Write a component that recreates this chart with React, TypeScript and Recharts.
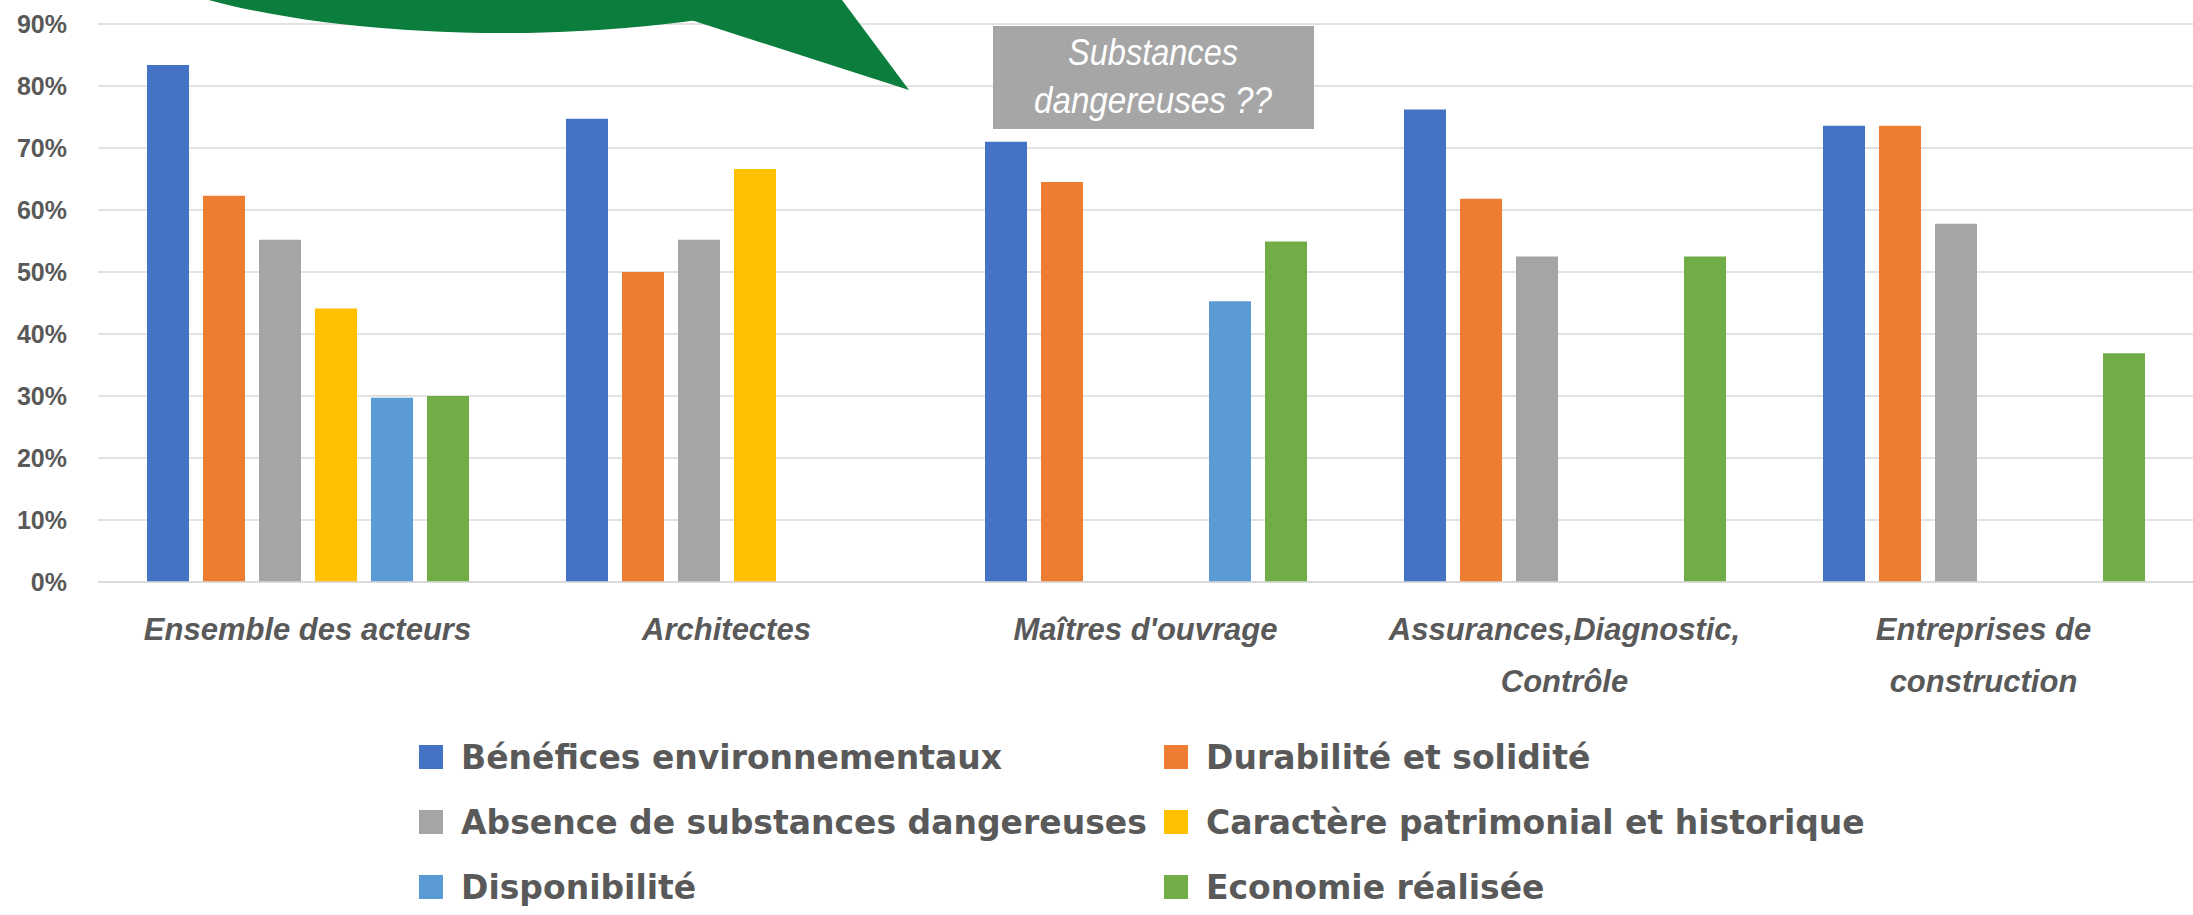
import React from "react";
import { BarChart, Bar, XAxis, YAxis, CartesianGrid } from "recharts";

// categories (multi-line labels split on \n)
const categories = [
  "Ensemble des acteurs",
  "Architectes",
  "Maîtres d'ouvrage",
  "Assurances,Diagnostic,\nContrôle",
  "Entreprises de\nconstruction",
];

// values in %
const benefices = [83.4, 74.7, 71.0, 76.2, 73.6];
const durabilite = [62.3, 50.0, 64.5, 61.8, 73.6];
const absence = [55.2, 55.2, null, 52.5, 57.8];
const caractere = [44.1, 66.6, null, null, null];
const disponibilite = [29.7, null, 45.3, null, null];
const economie = [30.0, null, 54.9, 52.5, 36.9];

const yTicks = [0, 10, 20, 30, 40, 50, 60, 70, 80, 90];

const series = [
  { key: "benefices", name: "Bénéfices environnementaux", color: "#4472C4", values: benefices },
  { key: "durabilite", name: "Durabilité et solidité", color: "#ED7D31", values: durabilite },
  { key: "absence", name: "Absence de substances dangereuses", color: "#A5A5A5", values: absence },
  { key: "caractere", name: "Caractère patrimonial et historique", color: "#FFC000", values: caractere },
  { key: "disponibilite", name: "Disponibilité", color: "#5B9BD5", values: disponibilite },
  { key: "economie", name: "Economie réalisée", color: "#70AD47", values: economie },
];

const data = categories.map((c, i) => {
  const row: any = { name: c };
  series.forEach((s) => (row[s.key] = s.values[i]));
  return row;
});

const W = 2193;
const H = 915;
const TXT = "#595959";

function CategoryTick(props: any) {
  const { x, y, payload } = props;
  const lines = String(payload.value).split("\n");
  return (
    <text
      x={x}
      y={y}
      textAnchor="middle"
      fill={TXT}
      fontFamily="'Liberation Sans', Arial, sans-serif"
      fontWeight="bold"
      fontStyle="italic"
      fontSize={31}
    >
      {lines.map((l, i) => (
        <tspan key={i} x={x} dy={i === 0 ? 58 : 52}>
          {l}
        </tspan>
      ))}
    </text>
  );
}

function LegendBlock() {
  return (
    <div style={{ position: "absolute", left: 0, top: 0, width: W, height: H, pointerEvents: "none" }}>
      {series.map((s, i) => {
        const col = i % 2;
        const row = Math.floor(i / 2);
        const left = col === 0 ? 419 : 1164;
        const cy = 757 + row * 65;
        return (
          <div
            key={s.key}
            style={{
              position: "absolute",
              left,
              top: cy - 22,
              height: 44,
              display: "flex",
              alignItems: "center",
              whiteSpace: "nowrap",
            }}
          >
            <span style={{ display: "inline-block", width: 24, height: 24, background: s.color, marginRight: 18 }} />
            <span
              style={{
                fontFamily: "'DejaVu Sans', sans-serif",
                fontWeight: "bold",
                fontSize: 33,
                color: TXT,
              }}
            >
              {s.name}
            </span>
          </div>
        );
      })}
    </div>
  );
}

function Annotations() {
  return (
    <svg width={W} height={H} style={{ position: "absolute", left: 0, top: 0, pointerEvents: "none" }}>
      {/* green speech bubble */}
      <ellipse cx={503} cy={-82} rx={420} ry={115} fill="#0B7D3C" />
      <polygon points="660,10 909,90 842,0 760,-10" fill="#0B7D3C" />
      {/* grey note box */}
      <rect x={993} y={26} width={321} height={103} fill="#A6A6A6" />
      <text
        x={1153}
        y={65}
        textAnchor="middle"
        fill="#fff"
        fontFamily="'Liberation Sans', Arial, sans-serif"
        fontStyle="italic"
        fontSize={36}
        textLength={170}
        lengthAdjust="spacingAndGlyphs"
      >
        Substances
      </text>
      <text
        x={1153}
        y={113}
        textAnchor="middle"
        fill="#fff"
        fontFamily="'Liberation Sans', Arial, sans-serif"
        fontStyle="italic"
        fontSize={36}
        textLength={238}
        lengthAdjust="spacingAndGlyphs"
      >
        dangereuses ??
      </text>
    </svg>
  );
}

export default function App() {
  return (
    <div style={{ position: "absolute", left: 0, top: 0, width: W, height: H, background: "#fff" }}>
      <BarChart
        width={W}
        height={H}
        data={data}
        margin={{ top: 24, right: 0, left: 0, bottom: 213 }}
        barSize={42}
        barGap={14}
      >
        <CartesianGrid vertical={false} stroke="#D9D9D9" strokeWidth={1.5} />
        <XAxis
          dataKey="name"
          interval={0}
          height={120}
          tickSize={0}
          tickMargin={0}
          axisLine={{ stroke: "#D9D9D9", strokeWidth: 1.5 }}
          tickLine={false}
          tick={<CategoryTick />}
        />
        <YAxis
          domain={[0, 90]}
          ticks={yTicks}
          width={98}
          tickSize={0}
          tickMargin={31}
          axisLine={false}
          tickLine={false}
          tickFormatter={(v: number) => `${v}%`}
          tick={{ fill: TXT, fontSize: 25, fontWeight: "bold", fontFamily: "'Liberation Sans', Arial, sans-serif" }}
        />
        {series.map((s) => (
          <Bar key={s.key} dataKey={s.key} name={s.name} fill={s.color} isAnimationActive={false} />
        ))}
      </BarChart>
      <Annotations />
      <LegendBlock />
    </div>
  );
}
